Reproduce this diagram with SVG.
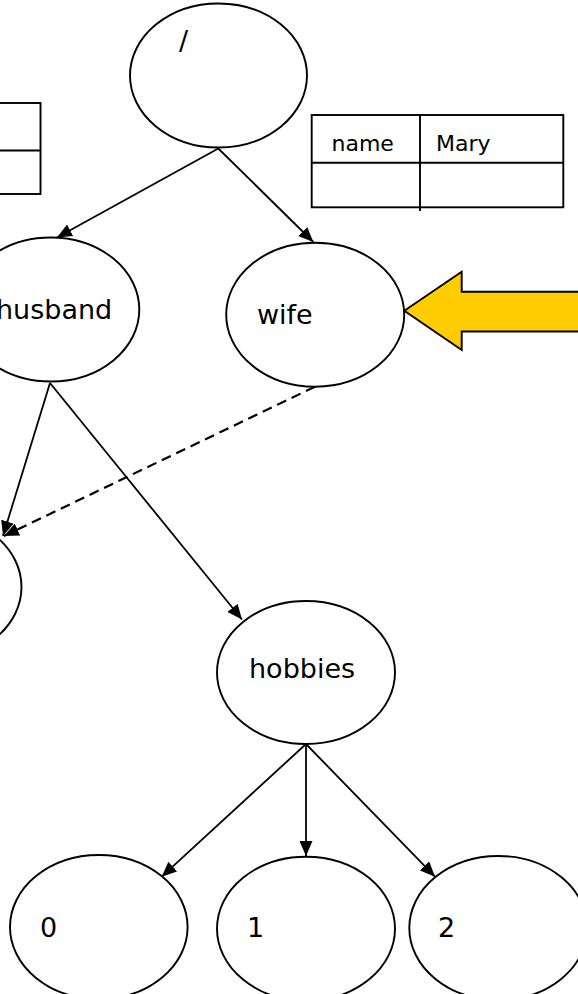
<svg xmlns="http://www.w3.org/2000/svg" width="578" height="994" viewBox="0 0 578 994">
<defs>
<style>
.node{fill:#fff;stroke:#000;stroke-width:1.9}
.lbl{font-family:"DejaVu Sans","Liberation Sans",sans-serif;font-size:27px;fill:#000}
.tlbl{font-family:"DejaVu Sans","Liberation Sans",sans-serif;font-size:22px;fill:#000}
.tbl{fill:#fff;stroke:#000;stroke-width:1.9}
.edge{fill:none;stroke:#000;stroke-width:1.8;marker-end:url(#ah)}
.dash{stroke-width:2.2;stroke-dasharray:10 6}
</style>
<marker id="ah" markerUnits="userSpaceOnUse" markerWidth="15" markerHeight="13" viewBox="0 0 15 13" refX="15" refY="6.5" orient="auto">
<path d="M0,0 L15,6.5 L0,13 Z" fill="#000"/>
</marker>
</defs>
<g id="table-left">
<rect class="tbl" x="-2" y="103" width="42.5" height="91"/>
<line x1="-2" y1="150.5" x2="40.5" y2="150.5" stroke="#000" stroke-width="1.9"/>
</g>
<g id="table-right">
<rect class="tbl" x="311.7" y="115" width="251.6" height="92.3"/>
<line x1="311.7" y1="162.7" x2="563.3" y2="162.7" stroke="#000" stroke-width="1.9"/>
<line x1="420" y1="115" x2="420" y2="211" stroke="#000" stroke-width="1.9"/>
<text class="tlbl" x="331.5" y="151">name</text>
<text class="tlbl" x="436" y="151">Mary</text>
</g>
<g id="connectors">
<line class="edge" x1="218.3" y1="148.5" x2="57" y2="237.5"/>
<line class="edge" x1="218.3" y1="148.5" x2="313.3" y2="242"/>
<line class="edge" x1="50" y1="383" x2="3" y2="536"/>
<line class="edge dash" x1="315" y1="386.7" x2="4" y2="536"/>
<line class="edge" x1="50" y1="383" x2="242" y2="619.5"/>
<line class="edge" x1="306" y1="744" x2="161.7" y2="876.7"/>
<line class="edge" x1="306" y1="744" x2="306" y2="856"/>
<line class="edge" x1="306" y1="744" x2="435" y2="876.7"/>
</g>
<g id="node-root">
<ellipse class="node" cx="218.5" cy="75.5" rx="88.5" ry="72"/>
<text class="lbl" x="179" y="50">/</text>
</g>
<g id="node-husband">
<ellipse class="node" cx="50.8" cy="309.5" rx="88.5" ry="72"/>
<text class="lbl" x="-4" y="319">husband</text>
</g>
<g id="node-wife">
<ellipse class="node" cx="315.2" cy="314.7" rx="89" ry="72"/>
<text class="lbl" x="257" y="324">wife</text>
</g>
<g id="node-left">
<ellipse class="node" cx="-67" cy="587" rx="88.5" ry="72"/>
</g>
<g id="node-hobbies">
<ellipse class="node" cx="306" cy="672.5" rx="89" ry="71.5"/>
<text class="lbl" x="249" y="678">hobbies</text>
</g>
<g id="node-0">
<ellipse class="node" cx="98.8" cy="927" rx="88.8" ry="72"/>
<text class="lbl" x="40" y="937">0</text>
</g>
<g id="node-1">
<ellipse class="node" cx="306" cy="928.7" rx="89" ry="72"/>
<text class="lbl" x="247" y="937">1</text>
</g>
<g id="node-2">
<ellipse class="node" cx="498.3" cy="928" rx="89" ry="72"/>
<text class="lbl" x="438" y="937">2</text>
</g>
<g id="yellow-arrow">
<path d="M404.3,310.7 L461.7,271.7 L461.7,291.7 L580,291.7 L580,331.5 L461.7,331.5 L461.7,350 Z" fill="#FFCC00" stroke="#000" stroke-width="1.9" stroke-linejoin="miter"/>
</g>
</svg>
